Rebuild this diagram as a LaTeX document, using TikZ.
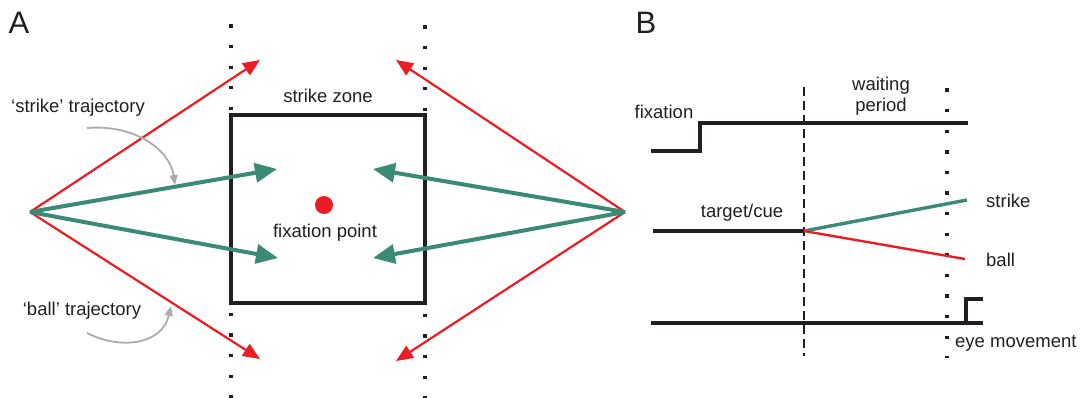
\documentclass[tikz,border=0pt]{standalone}
\usepackage{fontspec}
\setmainfont{Liberation Sans}
\usetikzlibrary{arrows.meta}
\definecolor{ired}{HTML}{ED1C24}
\definecolor{igreen}{HTML}{3A8A76}
\definecolor{igray}{HTML}{ABABAB}
\definecolor{iblack}{HTML}{231F20}
\tikzset{
  lbl/.style={font=\fontsize{18.5}{21}\selectfont, text=iblack, inner sep=0pt},
  panel/.style={font=\fontsize{31}{34}\selectfont, text=iblack, inner sep=0pt},
  redarrow/.style={draw=ired, line width=2.2pt, -{Triangle[length=17pt,width=14pt]}},
  greenarrow/.style={draw=igreen, line width=4pt, -{Triangle[length=22pt,width=19pt]}},
  grayarrow/.style={draw=igray, line width=1.8pt, -{Triangle[length=10pt,width=8pt]}},
  dotline/.style={draw=iblack, line width=3.3pt, dash pattern=on 3.3pt off 17.3pt},
  dashline/.style={draw=iblack, line width=1.8pt, dash pattern=on 9pt off 5pt},
  trace/.style={draw=iblack, line width=3.4pt},
}
\begin{document}
\begin{tikzpicture}[x=1pt,y=-1pt]
\useasboundingbox (0,0) rectangle (1082,398);

% ---------- panel A ----------
\node[panel] (pa) at (19,23) {A};

% dotted boundary lines
\coordinate (dlt) at (231,24.4);
\coordinate (dlb) at (231,398);
\coordinate (drt) at (425,25.4);
\coordinate (drb) at (425,398);
\draw[dotline] (dlt) -- (dlb);
\draw[dotline] (drt) -- (drb);

% strike zone
\node[draw=iblack, line width=3.4pt, minimum width=194pt, minimum height=188pt, inner sep=0pt]
  (zone) at (328,209) {};
\node[lbl] (zonelbl) at (328,96) {strike zone};

% fixation point
\node[circle, fill=ired, minimum size=18pt, inner sep=0pt] (fix) at (324,205) {};
\node[lbl] (fixlbl) at (325,233) {fixation point};

% pitch origins
\coordinate (ol) at (30,212);
\coordinate (or) at (625,212);

% arrow end points
\coordinate (lt) at (260,60);
\coordinate (lb) at (260,359);
\coordinate (rt) at (396,60);
\coordinate (rb) at (396,361);
\coordinate (lgt) at (277,169);
\coordinate (lgb) at (278,258);
\coordinate (rgt) at (373,169);
\coordinate (rgb) at (373,258);

\draw[redarrow] (ol) -- (lt);
\draw[redarrow] (ol) -- (lb);
\draw[redarrow] (or) -- (rt);
\draw[redarrow] (or) -- (rb);
\draw[greenarrow] (ol) -- (lgt);
\draw[greenarrow] (ol) -- (lgb);
\draw[greenarrow] (or) -- (rgt);
\draw[greenarrow] (or) -- (rgb);

% trajectory labels
\node[lbl] (strikelbl) at (78,108) {‘strike’ trajectory};
\node[lbl] (balllbl) at (82,311) {‘ball’ trajectory};
\coordinate (sa) at (87,128);
\coordinate (sb) at (175,185);
\coordinate (ba) at (87,333);
\coordinate (bb) at (171,306);
\draw[grayarrow] (sa) .. controls (135,124) and (170,150) .. (sb);
\draw[grayarrow] (ba) .. controls (120,350) and (162,345) .. (bb);

% ---------- panel B ----------
\node[panel] (pb) at (646,23) {B};

\coordinate (dashtop) at (804,87);
\coordinate (dashbot) at (804,356);
\coordinate (dottop) at (947,88.5);
\coordinate (dotbot) at (947,358);
\draw[dashline] (dashtop) -- (dashbot);
\draw[dotline] (dottop) -- (dotbot);

% fixation trace
\coordinate (f0) at (651,151);
\coordinate (f1) at (700,151);
\coordinate (f2) at (700,123);
\coordinate (f3) at (968,123);
\draw[trace] (f0) -- (f1) -- (f2) -- (f3);
\node[lbl] (fixb) at (664,112) {fixation};
\node[lbl, align=center] (wait) at (881,96) {waiting\\period};

% target / cue trace
\coordinate (t0) at (653,231);
\coordinate (t1) at (804,231);
\coordinate (ts) at (967,200);
\coordinate (tb) at (965,259);
\draw[trace] (t0) -- (t1);
\draw[draw=igreen, line width=3.4pt] (t1) -- (ts);
\draw[draw=ired, line width=2.4pt] (t1) -- (tb);
\node[lbl] (tc) at (742,213) {target/cue};
\node[lbl, anchor=west] (strk) at (986,201) {strike};
\node[lbl, anchor=west] (bl) at (986,260) {ball};

% eye movement trace
\coordinate (e0) at (651,323);
\coordinate (e1) at (966,323);
\coordinate (e2) at (966,299);
\coordinate (e3) at (983,299);
\coordinate (e4) at (983,323);
\draw[trace] (e0) -- (e4);
\draw[trace] (e1) -- (e2) -- (e3);
\node[lbl, anchor=west] (eye) at (955,343) {eye movement};
\end{tikzpicture}
\end{document}
